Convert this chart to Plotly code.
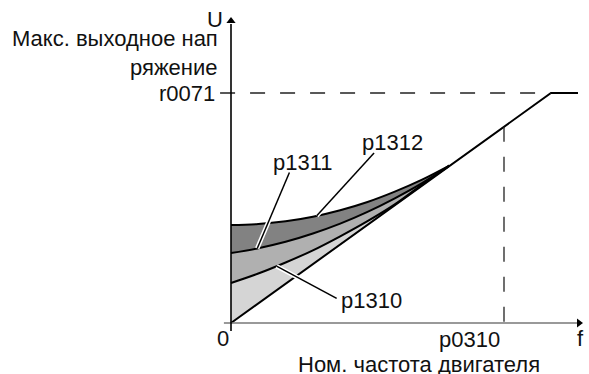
import numpy as np
import plotly.graph_objects as go

# Frequency samples, as a fraction of the rated motor frequency p0310
F = [0.0, 0.1, 0.2, 0.3, 0.4, 0.5, 0.6, 0.7, 0.8]
# Output voltage, as a fraction of the max output voltage r0071
U_P1312 = [0.426, 0.430, 0.442, 0.462, 0.490, 0.526, 0.571, 0.623, 0.684]
U_P1311 = [0.304, 0.325, 0.353, 0.389, 0.432, 0.483, 0.542, 0.608, 0.684]
U_P1310 = [0.174, 0.215, 0.263, 0.316, 0.377, 0.443, 0.516, 0.602, 0.684]

# Linear V/f characteristic: rises to r0071, then stays flat
F_LIN = [0.0, 1.172, 1.271]
U_LIN = [0.0, 1.0, 1.0]
# Stretch of the linear characteristic underneath the boost curves
F_BASE = [0.0, 0.8]
U_BASE = [0.0, 0.684]

F_RATED = 1.0    # p0310
U_MAX = 1.0      # r0071

# Curve labels: name, label centre (f, U), leader start (f, U), leader end f, curve
CURVE_LABELS = [
    ("p1312", (0.592, 0.783), (0.524, 0.739), 0.314, U_P1312),
    ("p1311", (0.262, 0.696), (0.214, 0.654), 0.096, U_P1311),
    ("p1310", (0.515, 0.096), (0.387, 0.107), 0.167, U_P1310),
]

FILL_DARK = "#828282"
FILL_MID = "#b0b0b0"
FILL_LIGHT = "#d5d5d5"
FONT = dict(family="Arial, Liberation Sans, sans-serif", size=22, color="#111111")

fig = go.Figure()

# base of the shaded area (invisible)
fig.add_trace(go.Scatter(x=F_BASE, y=U_BASE, mode="lines",
                         line=dict(width=0, color="rgba(0,0,0,0)"),
                         hoverinfo="skip"))
for u, fc in [(U_P1310, FILL_LIGHT), (U_P1311, FILL_MID), (U_P1312, FILL_DARK)]:
    fig.add_trace(go.Scatter(x=F, y=u, mode="lines", fill="tonexty",
                             fillcolor=fc,
                             line=dict(color="black", width=2, shape="spline"),
                             hoverinfo="skip"))

# linear characteristic
fig.add_trace(go.Scatter(x=F_LIN, y=U_LIN, mode="lines",
                         line=dict(color="black", width=2), hoverinfo="skip"))

# r0071 level and p0310 frequency guides
fig.add_trace(go.Scatter(x=[-0.04, F_LIN[1]], y=[U_MAX, U_MAX], mode="lines",
                         line=dict(color="#222222", width=1.3, dash="15px,15px"),
                         hoverinfo="skip"))
u_rated = float(np.interp(F_RATED, F_LIN, U_LIN))
fig.add_trace(go.Scatter(x=[F_RATED, F_RATED], y=[u_rated, -0.043], mode="lines",
                         line=dict(color="#222222", width=1.3, dash="15px,15px"),
                         hoverinfo="skip"))

# axes
fig.add_trace(go.Scatter(x=[-0.026, 1.27], y=[0, 0], mode="lines",
                         line=dict(color="#777777", width=1.6), hoverinfo="skip"))
fig.add_trace(go.Scatter(x=[0, 0], y=[-0.035, 1.30], mode="lines",
                         line=dict(color="black", width=1.6), hoverinfo="skip"))
fig.add_trace(go.Scatter(x=[1.2747], y=[0], mode="markers",
                         marker=dict(symbol="triangle-right", size=8, color="black"),
                         hoverinfo="skip"))
fig.add_trace(go.Scatter(x=[0], y=[1.313], mode="markers",
                         marker=dict(symbol="triangle-up", size=8, color="black"),
                         hoverinfo="skip"))

shapes = []
annotations = []
for name, (lx, ly), (tx, ty), af, curve in CURVE_LABELS:
    au = float(np.interp(af, F, curve))
    for col, w in [("white", 4.5), ("black", 1.5)]:
        shapes.append(dict(type="line", xref="x", yref="y", x0=tx, y0=ty,
                           x1=af, y1=au, line=dict(color=col, width=w),
                           layer="above"))
    annotations.append(dict(x=lx, y=ly, xref="x", yref="y", text=name,
                            showarrow=False, font=FONT, borderpad=0,
                            xanchor="center", yanchor="middle"))

def note(text, x, y, xs, ys, xa="center"):
    annotations.append(dict(x=x, y=y, xref="x", yref="y", text=text,
                            showarrow=False, font=FONT, xanchor=xa,
                            borderpad=0, yanchor="middle",
                            xshift=xs, yshift=ys))

note("U", 0, U_MAX, -16.5, 73.5)
note("Макс. выходное нап", 0, U_MAX, -12, 55, "right")
note("ряжение", 0, U_MAX, -12, 26, "right")
note("r0071", 0, U_MAX, -15, 0, "right")
note("0", 0, 0, -8, -15)
note("p0310", F_RATED, 0, -34.5, -16)
note("Ном. частота двигателя", F_RATED, 0, -85.5, -41)
note("f", 1.2747, 0, 1.5, -15)

fig.update_layout(
    width=589, height=374, autosize=False,
    margin=dict(l=0, r=0, t=0, b=0, pad=0),
    paper_bgcolor="white", plot_bgcolor="white",
    showlegend=False,
    shapes=shapes, annotations=annotations,
    xaxis=dict(range=[-231 / 273, (589 - 231) / 273], visible=False,
               showgrid=False, zeroline=False, fixedrange=True),
    yaxis=dict(range=[-51 / 230, 323 / 230], visible=False,
               showgrid=False, zeroline=False, fixedrange=True),
)

fig.write_html("out.html", config={"displayModeBar": False})
